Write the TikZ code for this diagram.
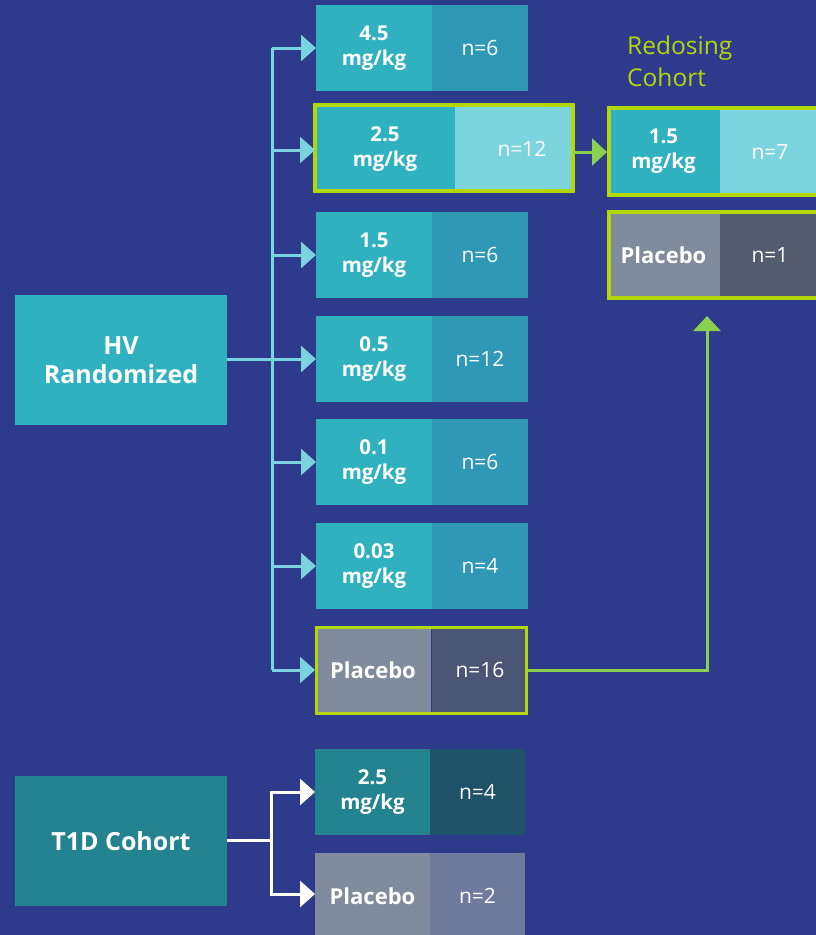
\documentclass[tikz,border=0pt]{standalone}
\usepackage{fontspec}
\setmainfont{Open Sans}
\usetikzlibrary{arrows.meta}
\definecolor{bg}{HTML}{2E3A8C}
\definecolor{tealc}{HTML}{2FB1C0}
\definecolor{bluec}{HTML}{2E98B5}
\definecolor{lcyan}{HTML}{7BD4DE}
\definecolor{limec}{HTML}{B4D70A}
\definecolor{greenc}{HTML}{8ACF4F}
\definecolor{conc}{HTML}{7BD3E0}
\definecolor{grayc}{HTML}{808B9E}
\definecolor{pdark}{HTML}{4B5574}
\definecolor{pdark2}{HTML}{525C6E}
\definecolor{t1d}{HTML}{23838E}
\definecolor{t1ddark}{HTML}{1D5268}
\definecolor{t1dpl}{HTML}{6F7B9D}
\tikzset{
  cell/.style={anchor=north west, inner sep=0pt, outer sep=0pt, text=white, align=center, minimum height=86pt},
  dose/.style={cell, fill=tealc, minimum width=116pt, font=\fontsize{20.5}{25}\selectfont\bfseries},
  plac/.style={dose, fill=grayc, font=\fontsize{22}{25}\selectfont\bfseries},
  cnt/.style={cell, fill=bluec, minimum width=96pt, font=\fontsize{21}{25}\selectfont},
  big/.style={anchor=north west, inner sep=0pt, outer sep=0pt, text=white, align=center, minimum width=212pt, minimum height=130pt, font=\fontsize{25}{29}\selectfont\bfseries},
  hl/.style={draw=limec, anchor=north west, inner sep=0pt, outer sep=0pt, fill=none},
  con/.style={draw=conc, line width=3pt, -{Triangle[length=15pt,width=26pt]}},
  gcon/.style={draw=greenc, line width=3pt, -{Triangle[length=15pt,width=27pt]}},
  wcon/.style={draw=white, line width=3pt, -{Triangle[length=15pt,width=26pt]}},
}
\begin{document}
\begin{tikzpicture}[x=1pt,y=-1pt]
\fill[bg] (0,0) rectangle (816,935);
\useasboundingbox (0,0) rectangle (816,935);

% left boxes
\node[big, fill=tealc] (hv) at (15,295) {HV\\Randomized};
\node[big, fill=t1d] (t1) at (15,776) {T1D Cohort};

% column rows
\node[dose] (d1) at (316,5) {4.5\\mg/kg};
\node[cnt]  (n1) at (432,5) {n=6};

\node[dose, minimum width=140pt, minimum height=88pt] (d2) at (315,105) {2.5\\mg/kg};
\node[cnt, fill=lcyan, minimum width=120pt, minimum height=88pt] (n2) at (455,105) {\hspace*{14pt}\raisebox{-4pt}{n=12}};
\node[hl, line width=4pt, minimum width=258pt, minimum height=86pt] (h2) at (315,105) {};

\node[dose] (d3) at (316,212) {1.5\\mg/kg};
\node[cnt]  (n3) at (432,212) {n=6};
\node[dose] (d4) at (316,316) {0.5\\mg/kg};
\node[cnt]  (n4) at (432,316) {n=12};
\node[dose] (d5) at (316,419) {0.1\\mg/kg};
\node[cnt]  (n5) at (432,419) {n=6};
\node[dose] (d6) at (316,523) {0.03\\mg/kg};
\node[cnt]  (n6) at (432,523) {n=4};

\node[plac, minimum height=88pt] (d7) at (315,626) {Placebo};
\node[cnt, fill=pdark, minimum height=88pt] (n7) at (432,626) {n=16};
\node[hl, line width=3pt, minimum width=210pt, minimum height=86pt] (h7) at (316.5,627.5) {};

% redosing
\node[anchor=north west, inner sep=0pt, text=limec, align=left, font=\fontsize{24.5}{32}\selectfont] (rt) at (627,36) {Redosing\\Cohort};
\node[dose, minimum width=113pt, minimum height=91pt] (r1) at (607,106) {1.5\\mg/kg};
\node[cnt, fill=lcyan, minimum width=100pt, minimum height=91pt] (rn1) at (720,106) {\raisebox{-6pt}{n=7}};
\node[hl, line width=4pt, minimum width=215pt, minimum height=87pt] (rh1) at (609,108) {};
\node[plac, minimum width=113pt, minimum height=90pt] (r2) at (607,210) {Placebo};
\node[cnt, fill=pdark2, minimum width=100pt, minimum height=90pt] (rn2) at (720,210) {n=1};
\node[hl, line width=4pt, minimum width=215pt, minimum height=86pt] (rh2) at (609,212) {};

% T1D rows
\node[dose, fill=t1d, minimum width=115pt] (t1a) at (315,749) {2.5\\mg/kg};
\node[cnt, fill=t1ddark, minimum width=95pt] (t1an) at (430,749) {n=4};
\node[plac, minimum width=115pt] (t1b) at (315,853) {Placebo};
\node[cnt, fill=t1dpl, minimum width=95pt] (t1bn) at (430,853) {n=2};

% HV bus
\coordinate (bt) at (272,48);
\coordinate (bb) at (272,670);
\draw[draw=conc, line width=3pt] (bt) -- (bb);
\draw[con] (bt) -- (d1.west |- bt);
\draw[con] (272,150) -- (h2.west |- 0,150);
\draw[con] (272,255) -- (d3.west);
\draw[con] (hv.east |- d4.west) -- (d4.west);
\draw[con] (272,462) -- (d5.west);
\draw[con] (272,566) -- (d6.west);
\draw[con] (bb) -- (d7.west |- bb);

% redosing arrow
\draw[gcon] (573,152) -- (r1.west |- 0,152);
\coordinate (gc) at (707,670);
\draw[gcon] (528,670) -- (gc) -- (707,316);

% T1D connectors
\coordinate (tc) at (271,840);
\draw[draw=white, line width=3pt] (t1.east |- tc) -- (tc);
\draw[wcon] (tc) |- (t1a.west);
\draw[wcon] (tc) |- (t1b.west |- 0,894);
\end{tikzpicture}
\end{document}
